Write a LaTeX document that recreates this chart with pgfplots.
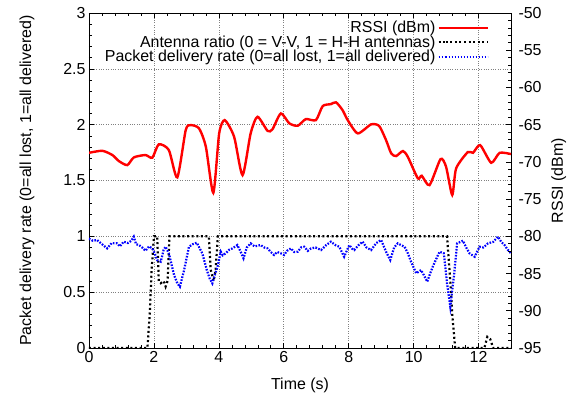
\documentclass[border=0pt]{standalone}
\usepackage{fontspec}
\setmainfont{Liberation Sans}
\usepackage{pgfplots}
\pgfplotsset{compat=1.18}
\definecolor{rssired}{RGB}{255,0,0}
\definecolor{pdrblue}{RGB}{0,0,255}
\tikzset{
  rssistyle/.style={rssired, line width=2.4bp},
  antstyle/.style={black, line width=2.2bp, dash pattern=on 2bp off 2.6bp},
  pdrstyle/.style={pdrblue, line width=2.2bp, dash pattern=on 1.6bp off 1.4bp},
}
\pgfplotsset{
  myaxis/.style={
    scale only axis, width=422bp, height=335bp,
    xmin=0, xmax=13,
    font=\fontsize{16}{18.5}\selectfont,
    /pgf/number format/assume math mode=true,
    tick align=inside,
    major tick length=5bp, minor tick length=3bp,
    every tick/.style={black, line width=0.6bp},
    axis line style={black, line width=0.8bp},
  }
}
\begin{document}
\begin{tikzpicture}
\begin{axis}[myaxis,
  ymin=0, ymax=3,
  xtick={0,2,...,12}, minor x tick num=4,
  ytick={0,0.5,...,3}, minor y tick num=4,
  yticklabels={0,0.5,1,1.5,2,2.5,3},
  ytick pos=left,
  grid=major, major grid style={gray, dotted, line width=0.6bp},
  xlabel={Time (s)},
  ylabel={Packet delivery rate (0=all lost, 1=all delivered)},
  xlabel shift=8bp,
  ylabel shift=22bp,
]
\coordinate (bl) at (rel axis cs:0,0);
\coordinate (tr) at (rel axis cs:1,1);
% Antenna ratio
\addplot[antstyle] coordinates {
(0,0) (1.80,0) (1.87,0.3) (1.93,0.7) (2.00,1.0) (2.10,1.0) (2.15,0.6) (2.21,0.58)
(2.30,0.6) (2.36,0.55) (2.42,0.6) (2.48,1.0) (3.69,1.0) (3.75,0.7) (3.84,0.6)
(3.90,0.7) (3.97,1.0) (11.03,1.0) (11.13,0.6) (11.19,0.3) (11.28,0) (12.18,0)
(12.27,0.1) (12.36,0.08) (12.45,0) (13.0,0)
};
% Packet delivery rate
\addplot[pdrstyle] coordinates {
(0.00,0.98) (0.12,0.96) (0.25,0.967) (0.40,0.93) (0.56,0.892) (0.70,0.94) (0.87,0.937)
(0.95,0.91) (1.07,0.952) (1.20,0.94) (1.30,0.96) (1.38,0.997) (1.45,0.93) (1.54,0.922)
(1.64,0.90) (1.74,0.871) (1.85,0.91) (1.95,0.892) (2.02,0.85) (2.10,0.788) (2.21,0.773)
(2.30,0.88) (2.36,0.907) (2.46,0.848) (2.62,0.654) (2.72,0.58) (2.80,0.549) (2.93,0.698)
(3.08,0.907) (3.20,0.93) (3.32,0.943) (3.49,0.848) (3.63,0.698) (3.72,0.62) (3.80,0.579)
(3.88,0.66) (3.96,0.728) (4.06,0.862) (4.12,0.83) (4.21,0.848) (4.32,0.88) (4.42,0.892)
(4.57,0.922) (4.66,0.87) (4.76,0.803) (4.86,0.90) (4.98,0.937) (5.10,0.91) (5.29,0.922)
(5.40,0.90) (5.50,0.892) (5.60,0.86) (5.70,0.833) (5.80,0.86) (5.91,0.848) (6.01,0.833)
(6.10,0.87) (6.22,0.892) (6.32,0.86) (6.43,0.862) (6.53,0.90) (6.63,0.907) (6.74,0.87)
(6.84,0.892) (6.98,0.90) (7.15,0.877) (7.30,0.92) (7.45,0.952) (7.60,0.92) (7.71,0.907)
(7.86,0.817) (8.02,0.922) (8.10,0.89) (8.17,0.877) (8.30,0.92) (8.43,0.952) (8.55,0.90)
(8.69,0.877) (8.85,0.94) (9.00,0.967) (9.15,0.862) (9.28,0.788) (9.40,0.90) (9.51,0.937)
(9.62,0.92) (9.72,0.907) (9.82,0.85) (9.92,0.773) (10.08,0.669) (10.23,0.698) (10.32,0.65)
(10.42,0.594) (10.50,0.66) (10.59,0.728) (10.70,0.80) (10.80,0.862) (10.93,0.848)
(11.03,0.579) (11.13,0.370) (11.24,0.638) (11.34,0.937) (11.52,0.961) (11.62,0.90)
(11.72,0.848) (11.88,0.817) (12.03,0.907) (12.15,0.90) (12.29,0.937) (12.45,0.95)
(12.60,0.997) (12.70,0.95) (12.80,0.922) (12.90,0.88) (13.0,0.848)
};
\end{axis}
\begin{axis}[myaxis,
  ymin=-95, ymax=-50,
  ytick={-95,-90,...,-50}, minor y tick num=4,
  axis x line=none, axis y line*=right,
  yticklabel style={xshift=4bp},
  ylabel near ticks,
  ylabel={RSSI (dBm)},
  ylabel shift=3bp,
  legend style={draw=none, fill=none, at={(1,1)}, anchor=north east,
    xshift=-19bp, yshift=-4bp, row sep=-2.5bp,
    font=\fontsize{16}{18.5}\selectfont},
  legend cell align=right,
  legend plot pos=right,
  legend image code/.code={\path (0bp,0bp) -- (7bp,0bp); \draw[#1] (7bp,0bp) -- (49bp,0bp);},
]
\addplot[rssistyle, smooth, tension=0.4] coordinates {
(0.00,-68.78) (0.41,-68.51) (0.72,-69.08) (0.92,-69.89) (1.18,-70.43) (1.38,-69.40)
(1.74,-69.08) (1.95,-69.44) (2.15,-67.64) (2.46,-68.41) (2.72,-72.08) (2.98,-65.72)
(3.13,-65.06) (3.39,-65.50) (3.60,-67.97) (3.83,-74.15) (4.01,-66.17) (4.18,-64.39)
(4.47,-66.62) (4.73,-71.77) (4.98,-66.17) (5.19,-63.94) (5.50,-65.83) (5.65,-65.63)
(5.91,-63.49) (6.17,-64.82) (6.43,-65.15) (6.68,-64.25) (6.99,-64.39) (7.20,-62.50)
(7.45,-62.24) (7.61,-62.00) (7.81,-63.04) (7.97,-64.39) (8.28,-66.17) (8.69,-64.96)
(8.94,-65.18) (9.15,-67.07) (9.31,-68.86) (9.46,-69.22) (9.67,-68.54) (9.82,-69.31)
(10.13,-72.22) (10.25,-71.86) (10.49,-73.12) (10.83,-69.62) (11.00,-70.66) (11.19,-74.45)
(11.31,-70.87) (11.67,-68.68) (11.83,-68.78) (12.05,-67.75) (12.39,-70.12) (12.65,-68.78)
(13.00,-68.95)
};
\addlegendentry{RSSI (dBm)}
\addlegendimage{antstyle}
\addlegendentry{Antenna ratio (0 = V-V, 1 = H-H antennas)}
\addlegendimage{pdrstyle}
\addlegendentry{Packet delivery rate (0=all lost, 1=all delivered)}
\end{axis}
\pgfresetboundingbox
\path[use as bounding box] ([shift={(-89bp,-47bp)}]bl) rectangle ([shift={(70bp,13bp)}]tr);
\end{tikzpicture}
\end{document}
